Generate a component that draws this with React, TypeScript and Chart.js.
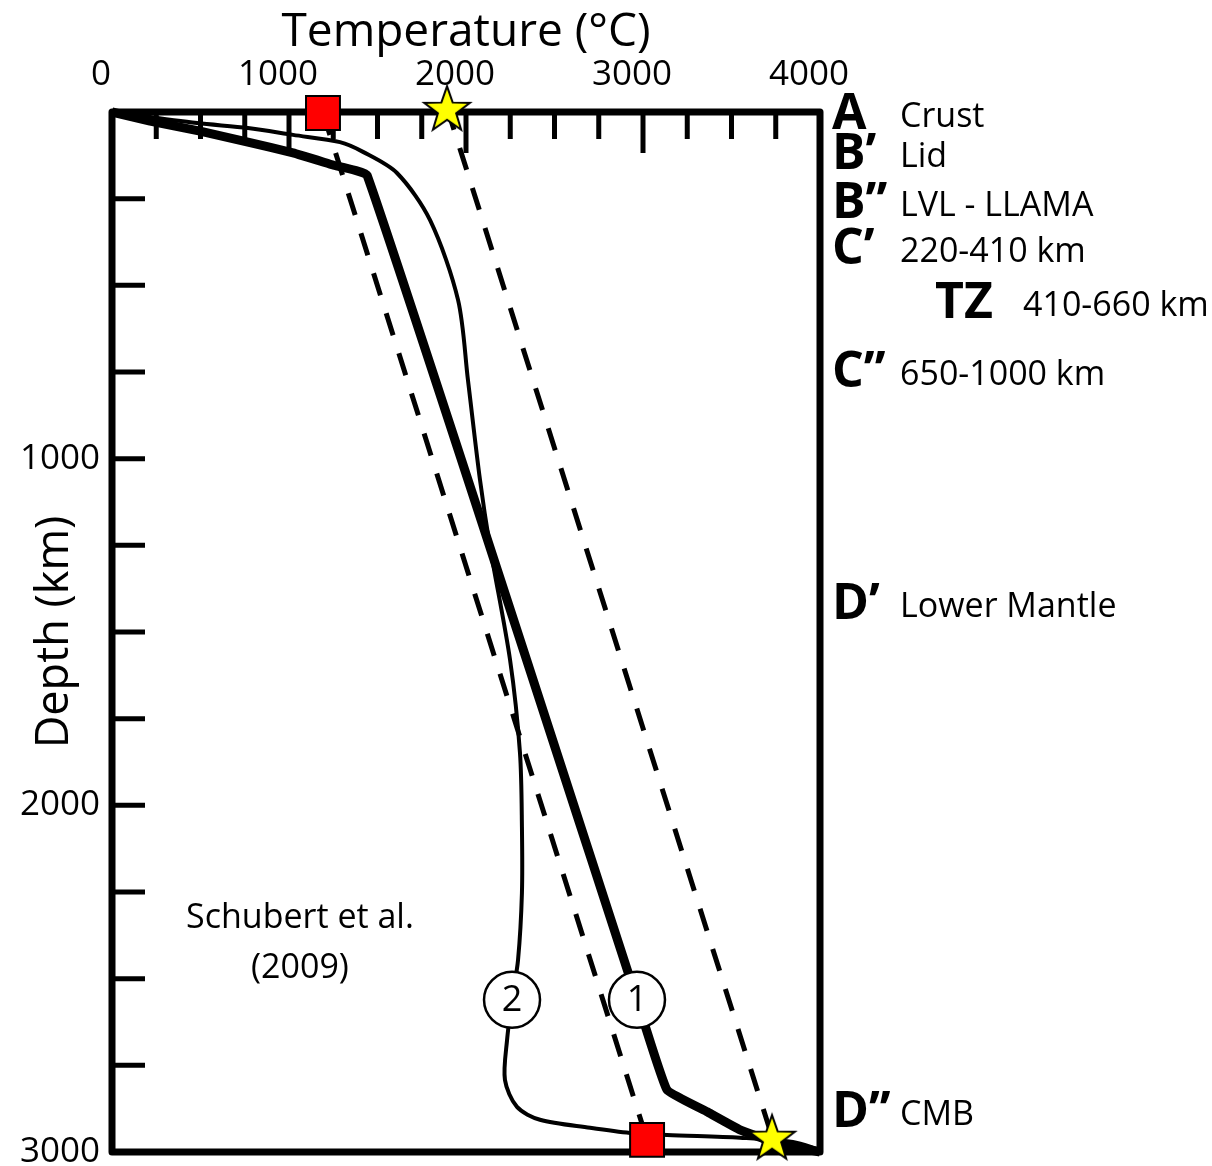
import React, { useEffect, useRef } from "react";
import { Chart, registerables } from "chart.js";

Chart.register(...registerables);

// ---------- data ----------
// Profile 1 (thick solid line): temperature (°C) vs depth (km)
const profile1Temp = [0, 215, 497, 768, 1023, 1249, 1441, 2966, 3136, 3362, 3548, 3734, 4000];
const profile1Depth = [0, 26, 55, 87, 118, 153, 182, 2561, 2821, 2884, 2936, 2971, 3000];

// Profile 2 (thin solid line)
const profile2Temp = [0, 480, 768, 1023, 1288, 1418, 1610, 1797, 1955, 2011, 2079, 2136, 2249, 2305, 2316, 2316, 2294, 2260, 2232, 2220, 2288, 2418, 2701, 2927, 3136, 3548, 3847, 4000];
const profile2Depth = [0, 32, 46, 66, 87, 115, 176, 312, 542, 773, 1061, 1255, 1581, 1849, 2062, 2253, 2446, 2561, 2677, 2792, 2870, 2907, 2930, 2945, 2951, 2959, 2971, 2994];

// Dashed reference lines (between markers)
const squareTemp = [1192, 3023];
const squareDepth = [3, 2965];
const starTemp = [1893, 3729];
const starDepth = [-12, 2956];

// Numbered circle labels on the profiles
const circleLabels = ["1", "2"];
const circleTemp = [2966, 2260];
const circleDepth = [2561, 2561];

// Axis ticks
const tempStep = 250;
const depthStep = 250;
const tempMax = 4000;
const depthMax = 3000;

// Layer annotations on the right
const layerCodes = ["A", "B\u2019", "B\u2019\u2019", "C\u2019", "TZ", "C\u2019\u2019", "D\u2019", "D\u2019\u2019"];
const layerNames = ["Crust", "Lid", "LVL - LLAMA", "220-410 km", "410-660 km", "650-1000 km", "Lower Mantle", "CMB"];
const layerDepths = [9, 124, 265, 398, 554, 753, 1422, 2887];

// Credit
const creditLines = ["Schubert et al.", "(2009)"];
const creditTemp = 1062;
const creditDepths = [2325, 2469];

const FONT = "'Open Sans', 'DejaVu Sans', sans-serif";

function makeStar(r: number): HTMLCanvasElement {
  const c = document.createElement("canvas");
  const s = Math.ceil(r * 2 + 6);
  c.width = s;
  c.height = s;
  const g = c.getContext("2d")!;
  const cx = s / 2;
  const cy = s / 2 + r * 0.1;
  const inner = r * 0.4;
  g.beginPath();
  for (let i = 0; i < 10; i++) {
    const rad = i % 2 === 0 ? r : inner;
    const a = -Math.PI / 2 + (i * Math.PI) / 5;
    const px = cx + rad * Math.cos(a);
    const py = cy + rad * Math.sin(a);
    if (i === 0) g.moveTo(px, py);
    else g.lineTo(px, py);
  }
  g.closePath();
  g.fillStyle = "#FFFF00";
  g.fill();
  g.lineWidth = 2;
  g.strokeStyle = "#000";
  g.lineJoin = "miter";
  g.stroke();
  return c;
}

const decorPlugin = {
  id: "decor",
  beforeDatasetsDraw(chart: any) {
    const { ctx, chartArea: a, scales } = chart;
    const x = scales.x;
    const y = scales.y;
    ctx.save();
    ctx.strokeStyle = "#000";
    ctx.lineCap = "butt";
    ctx.lineWidth = 5;
    x.ticks.forEach((t: any) => {
      if (t.value <= x.min || t.value >= x.max) return;
      const px = x.getPixelForValue(t.value);
      const len = t.value % 1000 === 0 ? 41 : 27;
      ctx.beginPath();
      ctx.moveTo(px, a.top);
      ctx.lineTo(px, a.top + len);
      ctx.stroke();
    });
    y.ticks.forEach((t: any) => {
      if (t.value <= y.min || t.value >= y.max) return;
      const py = y.getPixelForValue(t.value);
      ctx.beginPath();
      ctx.moveTo(a.left, py);
      ctx.lineTo(a.left + 33, py);
      ctx.stroke();
    });
    ctx.lineWidth = 7;
    ctx.lineJoin = "round";
    ctx.strokeRect(a.left, a.top, a.right - a.left, a.bottom - a.top);
    ctx.restore();
  },
  afterDatasetsDraw(chart: any) {
    const { ctx, chartArea: a, scales } = chart;
    const x = scales.x;
    const y = scales.y;
    ctx.save();
    ctx.fillStyle = "#000";
    // numerals inside circles
    const meta = chart.getDatasetMeta(2);
    ctx.font = `36px ${FONT}`;
    ctx.textAlign = "center";
    ctx.textBaseline = "middle";
    meta.data.forEach((el: any, i: number) => {
      ctx.fillText(circleLabels[i], el.x, el.y + 1);
    });
    // credit
    ctx.font = `34px ${FONT}`;
    creditLines.forEach((line, i) => {
      ctx.fillText(line, x.getPixelForValue(creditTemp), y.getPixelForValue(creditDepths[i]));
    });
    // layer labels
    ctx.textAlign = "left";
    layerCodes.forEach((code, i) => {
      const py = y.getPixelForValue(layerDepths[i]);
      const isTZ = code === "TZ";
      ctx.font = `bold 50px ${FONT}`;
      ctx.fillText(code, a.right + (isTZ ? 115 : 12), py);
      ctx.font = `34px ${FONT}`;
      ctx.fillText(layerNames[i], a.right + (isTZ ? 203 : 80), py + 2);
    });
    ctx.restore();
  },
};

export default function App() {
  const ref = useRef<HTMLCanvasElement | null>(null);
  useEffect(() => {
    if (!ref.current) return;
    const star = makeStar(24);
    const pts = (xs: number[], ys: number[]) => xs.map((v, i) => ({ x: v, y: ys[i] }));
    const chart = new Chart(ref.current, {
      type: "scatter",
      data: {
        datasets: [
          {
            label: "stars",
            data: pts(starTemp, starDepth),
            pointStyle: star as any,
            pointRadius: 24,
            clip: false as any,
          },
          {
            label: "squares",
            data: pts(squareTemp, squareDepth),
            pointStyle: "rect",
            pointRadius: 24,
            backgroundColor: "#FF0000",
            borderColor: "#000",
            borderWidth: 2,
            clip: false as any,
          },
          {
            label: "circles",
            data: pts(circleTemp, circleDepth),
            pointStyle: "circle",
            pointRadius: 28,
            backgroundColor: "#FFFFFF",
            borderColor: "#000",
            borderWidth: 2.5,
          },
          {
            label: "Profile 1",
            data: pts(profile1Temp, profile1Depth),
            showLine: true,
            borderColor: "#000",
            borderWidth: 9,
            pointRadius: 0,
            tension: 0.1,
            borderJoinStyle: "round",
            clip: false as any,
          },
          {
            label: "Profile 2",
            data: pts(profile2Temp, profile2Depth),
            showLine: true,
            borderColor: "#000",
            borderWidth: 4,
            pointRadius: 0,
            tension: 0.3,
            clip: false as any,
          },
          {
            label: "Square line",
            data: pts(squareTemp, squareDepth),
            showLine: true,
            borderColor: "#000",
            borderWidth: 5,
            borderDash: [23, 19],
            pointRadius: 0,
            clip: false as any,
          },
          {
            label: "Star line",
            data: pts(starTemp, starDepth),
            showLine: true,
            borderColor: "#000",
            borderWidth: 5,
            borderDash: [23, 19],
            pointRadius: 0,
            clip: false as any,
          },
        ],
      },
      options: {
        animation: false,
        responsive: false,
        layout: { autoPadding: false, padding: { left: 0, top: 0, right: 392, bottom: 14 } },
        plugins: { legend: { display: false }, tooltip: { enabled: false } },
        scales: {
          x: {
            type: "linear",
            position: "top",
            min: 0,
            max: tempMax,
            grid: { display: false, drawTicks: false },
            border: { display: false },
            ticks: {
              stepSize: tempStep,
              autoSkip: false,
              maxRotation: 0,
              padding: 16,
              labelOffset: -11,
              color: "#000",
              font: { family: FONT, size: 35, lineHeight: 1.2 },
              callback: (v: any) => (Number(v) % 1000 === 0 ? String(v) : ""),
            },
            title: {
              display: true,
              text: "Temperature (\u00B0C)",
              color: "#000",
              font: { family: FONT, size: 46, lineHeight: 1.2 },
              padding: { top: 5, bottom: 0 },
            },
            afterFit: (s: any) => {
              s.height = 112;
              s.paddingLeft = 0;
              s.paddingRight = 0;
            },
          },
          y: {
            type: "linear",
            reverse: true,
            min: 0,
            max: depthMax,
            grid: { display: false, drawTicks: false },
            border: { display: false },
            ticks: {
              stepSize: depthStep,
              autoSkip: false,
              padding: 12,
              color: "#000",
              font: { family: FONT, size: 35, lineHeight: 1.2 },
              callback: (v: any) => (Number(v) % 1000 === 0 && Number(v) !== 0 ? String(v) : ""),
            },
            title: {
              display: true,
              text: "Depth (km)",
              color: "#000",
              font: { family: FONT, size: 45, lineHeight: 1.2 },
              padding: { top: 28, bottom: 0 },
            },
            afterFit: (s: any) => {
              s.width = 112;
              s.paddingTop = 0;
              s.paddingBottom = 0;
            },
          },
        },
      },
      plugins: [decorPlugin],
    });
    return () => chart.destroy();
  }, []);
  return (
    <div style={{ position: "absolute", left: 0, top: 0, width: 1212, height: 1166 }}>
      <canvas ref={ref} width={1212} height={1166} style={{ width: 1212, height: 1166 }} />
    </div>
  );
}
